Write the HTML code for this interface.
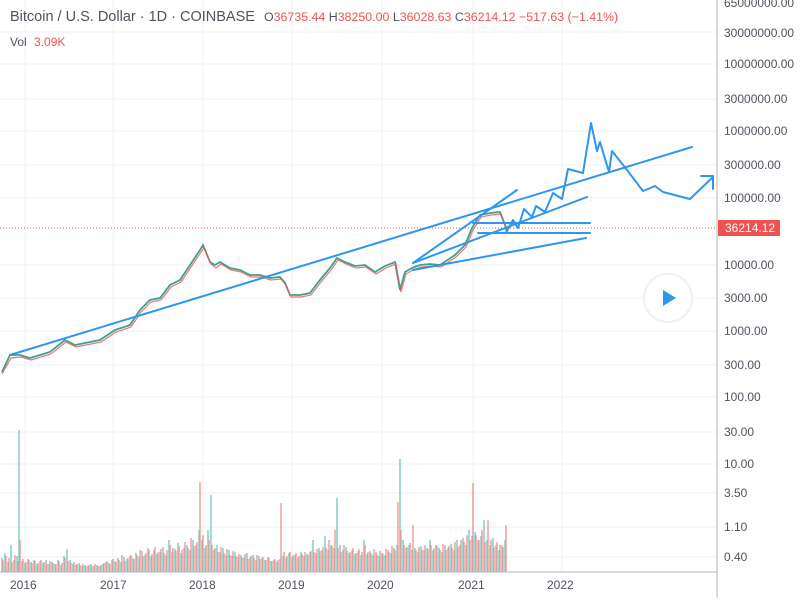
<!DOCTYPE html>
<html><head><meta charset="utf-8"><style>
body{margin:0;width:800px;height:598px;background:#fff;overflow:hidden;font-family:"Liberation Sans",sans-serif}
svg text{font-family:"Liberation Sans",sans-serif}
</style></head><body>
<svg width="800" height="598" xmlns="http://www.w3.org/2000/svg">
<rect x="0" y="0" width="800" height="598" fill="#fff"/>
<g stroke="#eef0f5" stroke-width="1">
<line x1="0" y1="32" x2="717" y2="32"/><line x1="0" y1="64" x2="717" y2="64"/><line x1="0" y1="99" x2="717" y2="99"/><line x1="0" y1="131" x2="717" y2="131"/><line x1="0" y1="165" x2="717" y2="165"/><line x1="0" y1="198" x2="717" y2="198"/><line x1="0" y1="265" x2="717" y2="265"/><line x1="0" y1="298" x2="717" y2="298"/><line x1="0" y1="331" x2="717" y2="331"/><line x1="0" y1="365" x2="717" y2="365"/><line x1="0" y1="397" x2="717" y2="397"/>
<line x1="0" y1="432" x2="717" y2="432"/><line x1="0" y1="464" x2="717" y2="464"/><line x1="0" y1="493" x2="717" y2="493"/><line x1="0" y1="527" x2="717" y2="527"/><line x1="0" y1="557" x2="717" y2="557"/>
<line x1="25" y1="0" x2="25" y2="572"/><line x1="113" y1="0" x2="113" y2="572"/><line x1="203" y1="0" x2="203" y2="572"/><line x1="292" y1="0" x2="292" y2="572"/><line x1="382" y1="0" x2="382" y2="572"/><line x1="473" y1="0" x2="473" y2="572"/><line x1="562" y1="0" x2="562" y2="572"/>
</g>
<g stroke-width="1.4" opacity="0.6">
<path stroke="#26a69a" d="M2 572V558M5 572V553M8 572V562M11 572V545M14 572V560M17 572V556M19 572V430M22 572V561M25 572V563M28 572V559M31 572V562M34 572V560M37 572V564M40 572V561M43 572V563M46 572V560M49 572V564M52 572V562M55 572V564M58 572V560M61 572V565M64 572V556M67 572V549M70 572V560M73 572V564M76 572V565M79 572V563M82 572V566M85 572V565M88 572V566M91 572V564M94 572V566M97 572V565M100 572V566M103 572V564M106 572V562M109 572V563M112 572V560M115 572V561M118 572V558M121 572V562M124 572V557M127 572V559M130 572V556M133 572V558M136 572V553M139 572V557M142 572V551M145 572V555M148 572V548M151 572V556M154 572V550M157 572V554M160 572V552M163 572V547M166 572V555M169 572V540M172 572V552M175 572V549M178 572V543M181 572V553M184 572V548M187 572V545M190 572V550M193 572V540M196 572V545M199 572V530M202 572V540M205 572V548M208 572V530M211 572V495M214 572V550M217 572V545M220 572V552M223 572V548M226 572V555M229 572V550M232 572V556M235 572V552M238 572V557M241 572V555M244 572V558M247 572V553M250 572V558M253 572V555M256 572V560M259 572V556M262 572V558M265 572V560M268 572V557M271 572V561M274 572V560M277 572V562M280 572V559M283 572V556M286 572V558M289 572V553M292 572V557M295 572V555M298 572V558M301 572V552M304 572V556M307 572V554M310 572V552M313 572V540M316 572V553M319 572V548M322 572V550M325 572V536M328 572V550M331 572V545M334 572V548M337 572V498M340 572V545M343 572V550M346 572V547M349 572V553M352 572V550M355 572V554M358 572V551M361 572V555M364 572V540M367 572V554M370 572V551M373 572V555M376 572V552M379 572V556M382 572V553M385 572V555M388 572V550M391 572V553M394 572V548M397 572V545M400 572V459M403 572V540M406 572V548M409 572V545M412 572V550M415 572V548M418 572V552M421 572V546M424 572V550M427 572V548M430 572V540M433 572V550M436 572V545M439 572V548M442 572V552M445 572V545M448 572V548M451 572V544M454 572V550M457 572V540M460 572V545M463 572V538M466 572V545M469 572V530M472 572V536M475 572V532M478 572V540M481 572V536M484 572V520M487 572V540M490 572V545M493 572V538M496 572V545M499 572V550M502 572V545M505 572V540"/>
<path stroke="#ef5350" d="M3 572V560M6 572V556M9 572V558M12 572V562M15 572V555M18 572V561M20 572V540M23 572V559M26 572V562M29 572V560M32 572V563M35 572V561M38 572V563M41 572V560M44 572V562M47 572V564M50 572V561M53 572V563M56 572V564M59 572V561M62 572V563M65 572V558M68 572V561M71 572V563M74 572V562M77 572V564M80 572V565M83 572V564M86 572V566M89 572V565M92 572V566M95 572V564M98 572V566M101 572V565M104 572V563M107 572V561M110 572V564M113 572V559M116 572V562M119 572V560M122 572V555M125 572V561M128 572V558M131 572V555M134 572V559M137 572V555M140 572V550M143 572V556M146 572V553M149 572V550M152 572V554M155 572V547M158 572V552M161 572V549M164 572V553M167 572V550M170 572V545M173 572V548M176 572V551M179 572V546M182 572V550M185 572V542M188 572V548M191 572V538M194 572V546M197 572V542M200 572V482M203 572V535M206 572V545M209 572V540M212 572V545M215 572V548M218 572V552M221 572V547M224 572V553M227 572V549M230 572V555M233 572V551M236 572V556M239 572V554M242 572V557M245 572V554M248 572V559M251 572V556M254 572V558M257 572V555M260 572V559M263 572V557M266 572V560M269 572V558M272 572V561M275 572V559M278 572V560M281 572V503M284 572V552M287 572V556M290 572V552M293 572V555M296 572V553M299 572V556M302 572V554M305 572V552M308 572V555M311 572V551M314 572V552M317 572V549M320 572V551M323 572V547M326 572V548M329 572V540M332 572V546M335 572V530M338 572V548M341 572V552M344 572V545M347 572V551M350 572V552M353 572V548M356 572V553M359 572V549M362 572V552M365 572V545M368 572V552M371 572V553M374 572V549M377 572V554M380 572V551M383 572V554M386 572V549M389 572V552M392 572V546M395 572V550M398 572V502M401 572V530M404 572V545M407 572V547M410 572V543M413 572V525M416 572V550M419 572V547M422 572V550M425 572V545M428 572V549M431 572V545M434 572V548M437 572V546M440 572V550M443 572V544M446 572V550M449 572V546M452 572V548M455 572V542M458 572V547M461 572V540M464 572V542M467 572V535M470 572V540M473 572V483M476 572V535M479 572V540M482 572V530M485 572V542M488 572V520M491 572V540M494 572V547M497 572V542M500 572V545M503 572V547M506 572V525"/>
</g>
<polyline fill="none" stroke="#3ba38f" stroke-width="1.8" points="2,372 10,355 20,355 30,358 50,352 65,340 75,345 100,340 115,330 130,325 140,310 150,300 160,298 170,285 180,280 190,265 200,250 203,245 210,262 215,265 220,262 230,268 240,270 250,275 260,275 270,278 280,277 285,283 290,295 300,295 310,293 320,280 330,268 337,258 345,262 355,266 365,265 375,272 385,266 395,262 400,290 405,272 412,268 420,265 430,264 440,265 455,255 465,245 472,228 480,215 490,213 500,212 505,225 507,233"/>
<polyline fill="none" stroke="#ef5350" stroke-width="1.2" opacity="0.8" points="2,374 11,358 21,357 31,360 51,354 66,342 76,347 101,342 116,332 131,327 141,312 151,302 161,300 171,287 181,282 191,267 201,252 204,248 211,264 216,268 221,264 231,270 241,272 251,277 261,277 271,280 281,279 286,285 291,297 301,297 311,295 321,282 331,270 338,260 346,264 356,268 366,267 376,274 386,268 396,264 401,292 406,274 413,270 421,267 431,266 441,267 456,257 466,247 473,230 481,217 491,215 501,214 506,227"/>
<line x1="0" y1="228" x2="717" y2="228" stroke="#ef5350" stroke-width="1" stroke-dasharray="1,2"/>
<g stroke="#2e96f0" stroke-width="2" fill="none" stroke-linecap="round" stroke-linejoin="round">
<line x1="10" y1="355" x2="692" y2="147"/>
<line x1="413" y1="263" x2="517" y2="190"/>
<line x1="413" y1="263" x2="587" y2="197"/>
<line x1="413" y1="270" x2="586" y2="238"/>
<line x1="473" y1="223" x2="590" y2="223"/>
<line x1="478" y1="233" x2="590" y2="233"/>
<polyline points="506,233 513,220 518,228 524,209 532,217 536,206 545,212 553,193 562,199 568,169 583,173 591,123 597,151 600,142 609,172 612,151 627,170 643,191 655,186 663,192 690,199 713,177"/>
<polyline points="701,176 713,176 713,189"/>
</g>
<line x1="717" y1="0" x2="717" y2="598" stroke="#b2b5be"/>
<line x1="0" y1="572" x2="717" y2="572" stroke="#b2b5be"/>
<g font-size="12" fill="#50535e">
<text x="724" y="7">65000000.00</text>
<text x="724" y="37">30000000.00</text>
<text x="724" y="68">10000000.00</text>
<text x="724" y="103">3000000.00</text>
<text x="724" y="135">1000000.00</text>
<text x="724" y="169">300000.00</text>
<text x="724" y="202">100000.00</text>
<text x="724" y="269">10000.00</text>
<text x="724" y="302">3000.00</text>
<text x="724" y="335">1000.00</text>
<text x="724" y="369">300.00</text>
<text x="724" y="401">100.00</text>
<text x="724" y="436">30.00</text>
<text x="724" y="468">10.00</text>
<text x="724" y="497">3.50</text>
<text x="724" y="531">1.10</text>
<text x="724" y="561">0.40</text>
<text x="10" y="589">2016</text><text x="100" y="589">2017</text><text x="189" y="589">2018</text><text x="278" y="589">2019</text><text x="367" y="589">2020</text><text x="458" y="589">2021</text><text x="547" y="589">2022</text>
</g>
<rect x="718" y="220" width="62" height="16" fill="#ef5350"/>
<text x="725" y="232" font-size="12" fill="#fff">36214.12</text>
<circle cx="668" cy="298" r="24" fill="#fff" stroke="#f0f0f0" stroke-width="2"/>
<polygon points="663,290 663,306 676,298" fill="#2e96f0"/>
<text x="10" y="21" font-size="14.5" fill="#50535e">Bitcoin / U.S. Dollar · 1D · COINBASE</text>
<text x="264" y="21" font-size="12.4" fill="#50535e">O<tspan fill="#ef5350">36735.44</tspan> H<tspan fill="#ef5350">38250.00</tspan> L<tspan fill="#ef5350">36028.63</tspan> C<tspan fill="#ef5350">36214.12 −517.63 (−1.41%)</tspan></text>
<text x="10" y="46" font-size="12" fill="#50535e">Vol <tspan fill="#ef5350" dx="4">3.09K</tspan></text>
</svg>
</body></html>
